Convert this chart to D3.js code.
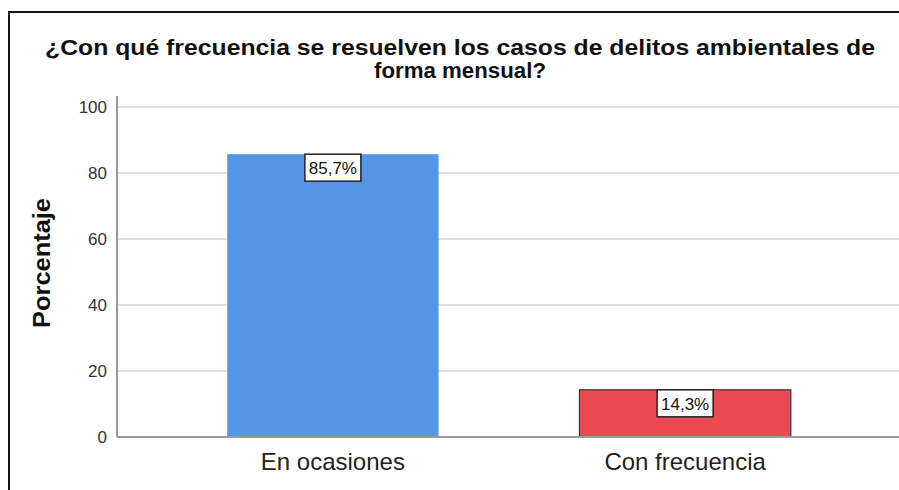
<!DOCTYPE html>
<html>
<head>
<meta charset="utf-8">
<script src="https://cdn.jsdelivr.net/npm/d3@7"></script>
<style>
  body { margin: 0; background: #fff; }
  text { font-family: Arial, "Liberation Sans", sans-serif; }
</style>
</head>
<body>
<div id="chart"></div>
<script>
// data
const categories = ['En ocasiones', 'Con frecuencia'];
const values = [85.7, 14.3];
const valueLabels = ['85,7%', '14,3%'];
const barColors = ['#5596e6', '#eb4b50'];
const yTicks = [0, 20, 40, 60, 80, 100];
const titleLines = ['¿Con qué frecuencia se resuelven los casos de delitos ambientales de', 'forma mensual?'];

const width = 899, height = 490;
let svg = d3.select('#chart').append('svg')
    .attr('width', width)
    .attr('height', height);

// outer frame
svg.append('rect')
    .attr('x', 9).attr('y', 12)
    .attr('width', 900).attr('height', 500)
    .attr('fill', 'none')
    .attr('stroke', '#111')
    .attr('stroke-width', 2);

let plotLeft = 117, plotRight = 899, plotTop = 107, plotBottom = 437;

let y = d3.scaleLinear().domain([0, 100]).range([plotBottom, plotTop]);
let x = d3.scaleBand().domain(categories)
    .range([plotLeft + 1, plotRight + 1])
    .paddingInner(0.4)
    .paddingOuter(0.31);

// title
const titleWidths = [830, 172];
svg.append('g').selectAll('text')
    .data(titleLines)
    .enter().append('text')
    .attr('x', 460)
    .attr('y', (d, i) => 55 + i * 23)
    .attr('text-anchor', 'middle')
    .attr('textLength', (d, i) => titleWidths[i])
    .attr('lengthAdjust', 'spacingAndGlyphs')
    .style('font-size', '22.5px')
    .style('font-weight', 'bold')
    .attr('fill', '#111')
    .text(d => d);

// grid lines
svg.append('g').selectAll('line')
    .data(yTicks.filter(d => d > 0))
    .enter().append('line')
    .attr('x1', plotLeft).attr('x2', plotRight)
    .attr('y1', d => y(d)).attr('y2', d => y(d))
    .attr('stroke', '#d4d4d4')
    .attr('stroke-width', 1.5);

// y tick labels
svg.append('g').selectAll('text')
    .data(yTicks)
    .enter().append('text')
    .attr('x', 107)
    .attr('y', d => y(d))
    .attr('dy', '0.35em')
    .attr('text-anchor', 'end')
    .style('font-size', '17px')
    .attr('fill', '#333')
    .text(d => d);

// y title
svg.append('text')
    .attr('transform', 'translate(50,263) rotate(-90)')
    .attr('text-anchor', 'middle')
    .attr('textLength', 130)
    .attr('lengthAdjust', 'spacingAndGlyphs')
    .style('font-size', '24px')
    .style('font-weight', 'bold')
    .attr('fill', '#111')
    .text('Porcentaje');

// bars
svg.append('g').selectAll('rect')
    .data(values)
    .enter().append('rect')
    .attr('x', (d, i) => x(categories[i]))
    .attr('y', d => y(d))
    .attr('width', x.bandwidth())
    .attr('height', d => plotBottom - y(d))
    .attr('fill', (d, i) => barColors[i])
    .attr('stroke', (d, i) => i == 1 ? '#333' : 'none')
    .attr('stroke-width', 1.2);

// axes lines
svg.append('line')
    .attr('x1', plotLeft).attr('x2', plotLeft)
    .attr('y1', 96).attr('y2', plotBottom)
    .attr('stroke', '#999').attr('stroke-width', 2);
svg.append('line')
    .attr('x1', plotLeft).attr('x2', plotRight)
    .attr('y1', plotBottom).attr('y2', plotBottom)
    .attr('stroke', '#999').attr('stroke-width', 2);

// category labels
svg.append('g').selectAll('text')
    .data(categories)
    .enter().append('text')
    .attr('x', d => x(d) + x.bandwidth() / 2)
    .attr('y', 470)
    .attr('text-anchor', 'middle')
    .style('font-size', '24px')
    .attr('fill', '#222')
    .text(d => d);

// value labels in boxes
let lab = svg.append('g').selectAll('g')
    .data(values)
    .enter().append('g')
    .attr('transform', (d, i) => `translate(${x(categories[i]) + x.bandwidth() / 2},${y(d)})`);

lab.append('rect')
    .attr('x', -28).attr('y', 0)
    .attr('width', 56).attr('height', 27)
    .attr('fill', '#fff')
    .attr('stroke', '#222')
    .attr('stroke-width', 1.5);

lab.append('text')
    .attr('y', 14)
    .attr('dy', '0.35em')
    .attr('text-anchor', 'middle')
    .style('font-size', '17px')
    .attr('fill', '#111')
    .text((d, i) => valueLabels[i]);
</script>
</body>
</html>
